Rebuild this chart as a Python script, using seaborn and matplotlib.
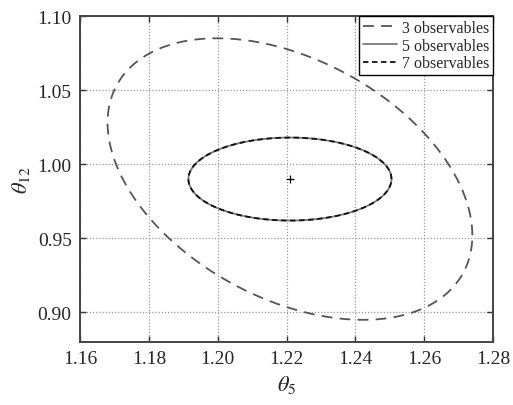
import numpy as np
import matplotlib
matplotlib.use("Agg")
import matplotlib.pyplot as plt
import seaborn as sns
import pandas as pd

# ---- data ----
center = (1.221, 0.990)
series_labels = ["3 observables", "5 observables", "7 observables"]
# ellipse half-extents along x and y, and x-y correlation
half_x = [0.053, 0.0295, 0.0295]
half_y = [0.095, 0.028, 0.028]
corr = [-0.40, 0.0, 0.0]
x_ticks = [1.16, 1.18, 1.20, 1.22, 1.24, 1.26, 1.28]
y_ticks = [0.90, 0.95, 1.00, 1.05, 1.10]

sns.set_style("ticks")
plt.rcParams["font.family"] = ["Liberation Serif", "DejaVu Serif"]
plt.rcParams["mathtext.fontset"] = "stix"

fig = plt.figure(figsize=(5.13, 4.06), dpi=100)
ax = fig.add_axes([0.156, 0.155, 0.805, 0.803])

styles = [
    dict(color="#555555", linestyle=(0, (6, 4)), linewidth=1.3),
    dict(color="#777777", linestyle="-", linewidth=1.3),
    dict(color="#111111", linestyle=(0, (3, 2)), linewidth=1.3),
]

t = np.linspace(0, 2 * np.pi, 400)
for lab, sx, sy, r, st in zip(series_labels, half_x, half_y, corr, styles):
    xs = center[0] + sx * np.cos(t)
    ys = center[1] + sy * (r * np.cos(t) + np.sqrt(1 - r * r) * np.sin(t))
    df = pd.DataFrame({"x": xs, "y": ys})
    sns.lineplot(data=df, x="x", y="y", sort=False, estimator=None,
                 errorbar=None, ax=ax, label=lab, **st)

sns.scatterplot(x=[center[0]], y=[center[1]], marker="+", s=40, color="black",
                linewidth=0.9, ax=ax, legend=False)

ax.set_xlim(1.16, 1.28)
ax.set_ylim(0.88, 1.10)
ax.set_xticks(x_ticks)
ax.set_yticks(y_ticks)
ax.set_xticklabels([f"{v:.2f}" for v in x_ticks])
ax.set_yticklabels([f"{v:.2f}" for v in y_ticks])
ax.grid(True, linestyle=(0, (1, 1.5)), color="#999999", linewidth=0.9)
ax.tick_params(direction="in", top=True, right=True, length=4, width=1,
               labelsize=14, color="#333333", pad=6)
for s in ax.spines.values():
    s.set_color("#444444")
    s.set_linewidth(1.4)

ax.set_xlabel(r"$\theta_5$", fontsize=16, labelpad=4)
ax.set_ylabel(r"$\theta_{12}$", fontsize=16, labelpad=4)

leg = ax.legend(loc="upper right", borderaxespad=0, fontsize=11.5, frameon=True,
                fancybox=False, handlelength=2.1, handletextpad=0.3,
                borderpad=0.25, labelspacing=0.1)
leg.get_frame().set_edgecolor("black")
leg.get_frame().set_linewidth(1.0)
leg.get_frame().set_alpha(1)

fig.savefig("out.png", dpi=100)
